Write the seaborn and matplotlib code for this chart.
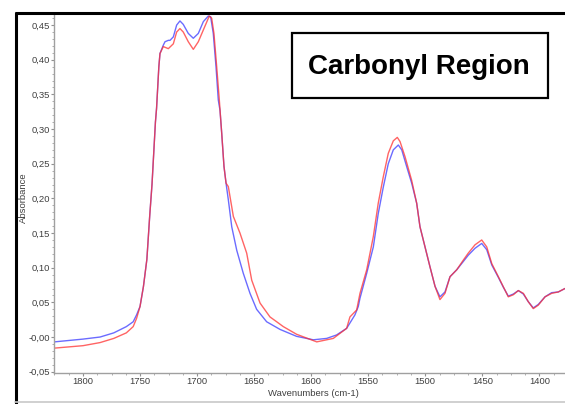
import matplotlib
matplotlib.use("Agg")
import matplotlib.pyplot as plt
from matplotlib.lines import Line2D
from matplotlib.patches import Rectangle
from matplotlib.ticker import MultipleLocator, FixedLocator
import numpy as np
import pandas as pd
import seaborn as sns

# Spectrum A (blue): wavenumber (cm-1) and absorbance
blue_wn = [1825, 1800, 1785, 1773, 1762, 1756, 1753, 1750, 1747, 1744, 1741.5, 1739.5,
           1738, 1736.5, 1735.5, 1734.5, 1733.5, 1732.5, 1729.6, 1728.1, 1725.2, 1723.7,
           1720.8, 1717.9, 1715.0, 1712.1, 1707.7, 1703.3, 1698.9, 1694.5, 1690.2, 1688.1,
           1685.8, 1683.4, 1681.4, 1679.9, 1678.4, 1676.4, 1674.6, 1672.6, 1669.6, 1665.2,
           1659.5, 1653.6, 1647.8, 1639.0, 1627.3, 1612.8, 1598.1, 1586.4, 1577.7, 1568.9,
           1561.6, 1558.7, 1557.2, 1551.3, 1545.5, 1541.2, 1536.8, 1532.4, 1528.0, 1523.6,
           1520.6, 1516.3, 1511.9, 1507.5, 1504.6, 1500.2, 1495.8, 1491.4, 1487.1, 1482.7,
           1478.3, 1472.4, 1466.6, 1462.3, 1456.4, 1450.5, 1446.1, 1441.7, 1435.9, 1431.6,
           1427.2, 1422.8, 1418.4, 1414.0, 1409.7, 1405.3, 1400.9, 1395.0, 1389.2, 1383.4,
           1377.5]
blue_abs = [-0.007, -0.003, 0.000, 0.006, 0.015, 0.022, 0.032, 0.044, 0.073, 0.112, 0.175, 0.220,
            0.265, 0.310, 0.330, 0.360, 0.390, 0.409, 0.421, 0.426, 0.428, 0.428,
            0.433, 0.450, 0.456, 0.451, 0.438, 0.431, 0.438, 0.455, 0.463, 0.462,
            0.438, 0.390, 0.342, 0.327, 0.294, 0.246, 0.222, 0.198, 0.159, 0.125,
            0.092, 0.063, 0.040, 0.022, 0.011, 0.001, -0.004, -0.002, 0.003, 0.0125,
            0.032, 0.044, 0.056, 0.092, 0.130, 0.178, 0.216, 0.250, 0.270, 0.277,
            0.270, 0.246, 0.222, 0.193, 0.159, 0.130, 0.101, 0.073, 0.058, 0.065,
            0.087, 0.097, 0.109, 0.118, 0.128, 0.135, 0.126, 0.104, 0.086, 0.072,
            0.059, 0.062, 0.067, 0.062, 0.051, 0.042, 0.047, 0.058, 0.064, 0.065,
            0.070]

# Spectrum B (red)
red_wn = [1825, 1800, 1785, 1773, 1762, 1756, 1753, 1750, 1747, 1744, 1741.5, 1739.5,
          1738, 1736.5, 1735.5, 1734.5, 1733.5, 1732.5, 1729.6, 1725.2, 1720.8, 1717.9,
          1715.0, 1712.1, 1707.7, 1703.3, 1698.9, 1694.5, 1689.3, 1687.2, 1685.2, 1682.8,
          1680.5, 1678.4, 1676.4, 1674.6, 1672.6, 1668.2, 1662.4, 1656.5, 1652.1, 1644.8,
          1636.1, 1630.2, 1624.4, 1612.8, 1595.1, 1580.6, 1568.9, 1566.0, 1560.1, 1557.2,
          1551.3, 1545.5, 1541.2, 1536.8, 1532.4, 1528.0, 1524.5, 1522.1, 1517.7, 1511.9,
          1507.5, 1504.6, 1500.2, 1495.8, 1491.4, 1487.1, 1482.7, 1478.3, 1472.4, 1466.6,
          1462.3, 1456.4, 1450.5, 1446.1, 1441.7, 1435.9, 1431.6, 1427.2, 1422.8, 1418.4,
          1414.0, 1409.7, 1405.3, 1400.9, 1395.0, 1389.2, 1383.4, 1377.5]
red_abs = [-0.016, -0.0125, -0.008, -0.002, 0.006, 0.015, 0.027, 0.044, 0.073, 0.112, 0.175, 0.220,
           0.265, 0.310, 0.330, 0.360, 0.390, 0.409, 0.419, 0.416, 0.423, 0.440,
           0.445, 0.440, 0.426, 0.415, 0.426, 0.443, 0.463, 0.460, 0.438, 0.390,
           0.342, 0.294, 0.246, 0.222, 0.217, 0.174, 0.150, 0.121, 0.082, 0.049,
           0.029, 0.022, 0.015, 0.004, -0.007, -0.002, 0.0125, 0.029, 0.039, 0.063,
           0.097, 0.145, 0.193, 0.231, 0.265, 0.283, 0.288, 0.282, 0.260, 0.226,
           0.193, 0.159, 0.130, 0.101, 0.073, 0.054, 0.063, 0.087, 0.097, 0.111,
           0.121, 0.133, 0.140, 0.130, 0.106, 0.087, 0.0726, 0.058, 0.061, 0.067,
           0.063, 0.051, 0.041, 0.046, 0.058, 0.063, 0.065, 0.070]

x_ticks = [1800, 1750, 1700, 1650, 1600, 1550, 1500, 1450, 1400]
y_ticks = [-0.05, 0.00, 0.05, 0.10, 0.15, 0.20, 0.25, 0.30, 0.35, 0.40, 0.45]
y_tick_labels = ["-0,05", "-0,00", "0,05", "0,10", "0,15", "0,20", "0,25",
                 "0,30", "0,35", "0,40", "0,45"]
title_text = "Carbonyl Region"

sns.set_style("white")
plt.rcParams["font.family"] = ["Liberation Sans", "DejaVu Sans"]

W, H = 565, 404
fig = plt.figure(figsize=(W / 100, H / 100), dpi=100)
fig.patch.set_facecolor("white")

def fx(px):
    return px / W

def fy(py):
    return 1 - py / H

AX_L, AX_R, AX_T, AX_B = 54, 565, 14, 373
ax = fig.add_axes([fx(AX_L), fy(AX_B), fx(AX_R - AX_L), (AX_B - AX_T) / H])
ax.set_facecolor("white")

df_b = pd.DataFrame({"wn": blue_wn, "abs": blue_abs})
df_r = pd.DataFrame({"wn": red_wn, "abs": red_abs})
sns.lineplot(data=df_b, x="wn", y="abs", ax=ax, color="#3a3aff", lw=1.0, alpha=0.75,
             estimator=None, sort=False)
sns.lineplot(data=df_r, x="wn", y="abs", ax=ax, color="#ff3030", lw=1.0, alpha=0.75,
             estimator=None, sort=False)

ax.set_xlim(1825.4, 1377.5)
ax.set_ylim(-0.0519, 0.466)

ax.xaxis.set_major_locator(FixedLocator(x_ticks))
ax.set_xticklabels([str(v) for v in x_ticks])
ax.xaxis.set_minor_locator(MultipleLocator(12.5))
ax.yaxis.set_major_locator(FixedLocator(y_ticks))
ax.set_yticklabels(y_tick_labels)
ax.yaxis.set_minor_locator(MultipleLocator(0.01))

for s in ["top", "right"]:
    ax.spines[s].set_visible(False)
for s in ["left", "bottom"]:
    ax.spines[s].set_color("#a0a0a0")
    ax.spines[s].set_linewidth(1.0)

ax.tick_params(axis="both", which="major", length=2.0, width=0.8, color="#909090",
               labelsize=6.8, labelcolor="#404040", pad=0.8)
ax.tick_params(axis="both", which="minor", length=1.5, width=0.6, color="#a0a0a0")
ax.tick_params(axis="y", which="both", left=True)
ax.tick_params(axis="x", which="both", bottom=True)

ax.set_xlabel("Wavenumbers (cm-1)", fontsize=6.8, color="#404040")
ax.set_ylabel("Absorbance", fontsize=6.8, color="#404040")
ax_w, ax_h = AX_R - AX_L, AX_B - AX_T
ax.xaxis.set_label_coords((313 - AX_L) / ax_w, -(389 - AX_B) / ax_h)
ax.yaxis.set_label_coords(-(AX_L - 28) / ax_w, (AX_B - 198) / ax_h)

# outer frame: thick black left/top edges, light gray bottom edge
fig.add_artist(Line2D([fx(15.5), fx(15.5)], [fy(12), fy(404)], color="black", lw=2.2,
                      solid_capstyle="butt"))
fig.add_artist(Line2D([fx(14.5), fx(565)], [fy(12.5), fy(12.5)], color="black", lw=2.2,
                      solid_capstyle="butt"))
fig.add_artist(Line2D([fx(15), fx(565)], [fy(402), fy(402)], color="#c8c8c8", lw=1.2))

# title box
fig.add_artist(Rectangle((fx(292), fy(98)), fx(548 - 292), (98 - 33) / H,
                         transform=fig.transFigure, facecolor="white",
                         edgecolor="black", lw=1.6))
fig.text(fx(419), fy(67), title_text, ha="center", va="center", fontsize=20,
         fontweight="bold", color="black")

fig.savefig("out.png", dpi=100)
